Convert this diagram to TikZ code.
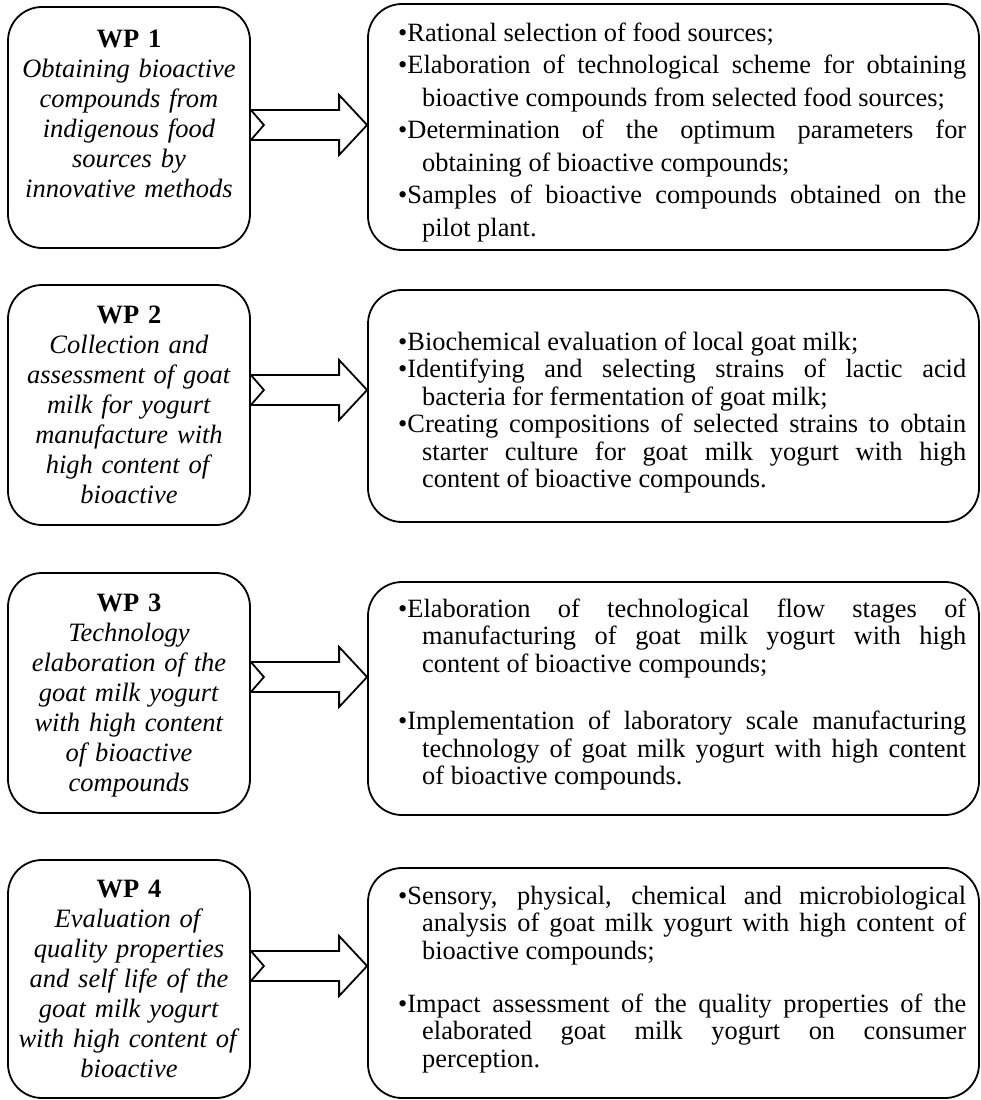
\documentclass[tikz,border=0pt]{standalone}
\usepackage{fontspec}
\setmainfont{Liberation Serif}
\usetikzlibrary{calc}
\tikzset{
  lbox/.style={draw, line width=1.8pt, rounded corners=34pt, minimum width=242pt, inner sep=0pt},
  rbox/.style={draw, line width=1.8pt, rounded corners=34pt, minimum width=611pt, inner sep=0pt},
  ltext/.style={anchor=north, inner sep=0pt, text width=240pt, align=center, font=\fontsize{26.5}{30}\selectfont},
  rtext/.style={anchor=north west, inner sep=0pt, text width=568pt, align=justify},
  blockarr/.style={draw, line width=1.8pt, fill=white, line join=miter}
}
\newcommand\bfirst[1]{\noindent\hangindent=24pt\hangafter=1 \textbullet\rule{0pt}{22pt}#1}
\newcommand\bitem[1]{\par\noindent\hangindent=24pt\hangafter=1 \textbullet#1}
\newcommand\wparrow[3]{%
  \path (#1.east|-0,#3) coordinate (s) (#2.west|-0,#3) coordinate (t);
  \draw[blockarr] ($(s)+(0,-15)$) -- ($(t)+(-28,-15)$) -- ++(0,-15) -- (t)
     -- ++(-28,30) -- ++(0,-15) -- ($(s)+(0,15)$) -- ($(s)+(13,0)$) -- cycle;}
\begin{document}
\begin{tikzpicture}[x=1pt,y=-1pt]
\useasboundingbox (0,0) rectangle (981,1100);
% boxes
\node[lbox, minimum height=241pt] (L1) at (129,127.5) {};
\node[lbox, minimum height=240pt] (L2) at (129,405) {};
\node[lbox, minimum height=240pt] (L3) at (129,693) {};
\node[lbox, minimum height=238pt] (L4) at (129,979) {};
\node[rbox, minimum height=246pt] (R1) at (673.5,127) {};
\node[rbox, minimum height=232pt] (R2) at (673.5,406) {};
\node[rbox, minimum height=233pt] (R3) at (673.5,698.5) {};
\node[rbox, minimum height=230pt] (R4) at (673.5,983) {};
% left texts
\node[ltext] (T1) at (129,23) {\textbf{\rule{0pt}{24pt}WP 1}\\ \textit{Obtaining bioactive}\\ \textit{compounds from}\\ \textit{indigenous food}\\ \textit{sources by}\\ \textit{innovative methods}};
\node[ltext] (T2) at (129,299) {\textbf{\rule{0pt}{24pt}WP 2}\\ \textit{Collection and}\\ \textit{assessment of goat}\\ \textit{milk for yogurt}\\ \textit{manufacture with}\\ \textit{high content of}\\ \textit{bioactive}};
\node[ltext] (T3) at (129,587) {\textbf{\rule{0pt}{24pt}WP 3}\\ \textit{Technology}\\ \textit{elaboration of the}\\ \textit{goat milk yogurt}\\ \textit{with high content}\\ \textit{of bioactive}\\ \textit{compounds}};
\node[ltext] (T4) at (129,873) {\textbf{\rule{0pt}{24pt}WP 4}\\ \textit{Evaluation of}\\ \textit{quality properties}\\ \textit{and self life of the}\\ \textit{goat milk yogurt}\\ \textit{with high content of}\\ \textit{bioactive}};
% right texts
\node[rtext] (S1) at (398,19) {\fontsize{26.4}{32.5}\selectfont\parskip=0pt
 \bfirst{Rational selection of food sources;}
 \bitem{Elaboration of technological scheme for obtaining \linebreak bioactive compounds from selected food sources;}
 \bitem{Determination of the optimum parameters for \linebreak obtaining of bioactive compounds;}
 \bitem{Samples of bioactive compounds obtained on the \linebreak pilot plant.}\par};
\node[rtext] (S2) at (398,328) {\fontsize{26.4}{27.5}\selectfont\parskip=0pt
 \bfirst{Biochemical evaluation of local goat milk;}
 \bitem{Identifying and selecting strains of lactic acid \linebreak bacteria for fermentation of goat milk;}
 \bitem{Creating compositions of selected strains to obtain \linebreak starter culture for goat milk yogurt with high \linebreak content of bioactive compounds.}\par};
\node[rtext] (S3) at (398,595) {\fontsize{26.4}{27.5}\selectfont\parskip=30pt
 \bfirst{Elaboration of technological flow stages of \linebreak manufacturing of goat milk yogurt with high \linebreak content of bioactive compounds;}
 \bitem{Implementation of laboratory scale manufacturing \linebreak technology of goat milk yogurt with high content \linebreak of bioactive compounds.}\par};
\node[rtext] (S4) at (398,882) {\fontsize{26.4}{27.5}\selectfont\parskip=25.5pt
 \bfirst{Sensory, physical, chemical and microbiological \linebreak analysis of goat milk yogurt with high content of \linebreak bioactive compounds;}
 \bitem{Impact assessment of the quality properties of the \linebreak elaborated goat milk yogurt on consumer \linebreak perception.}\par};
% arrows
\wparrow{L1}{R1}{125}
\wparrow{L2}{R2}{390}
\wparrow{L3}{R3}{677}
\wparrow{L4}{R4}{966}
\end{tikzpicture}
\end{document}
